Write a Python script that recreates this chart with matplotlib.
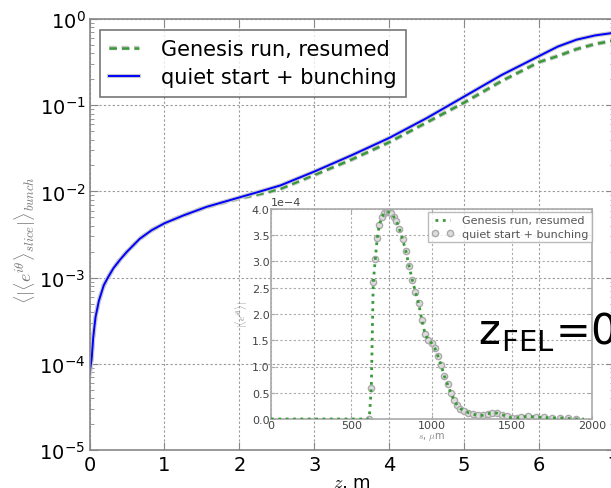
"""Bunching factor along the undulator, with the z_FEL=0 slice profile inset."""

import matplotlib

matplotlib.use("Agg")

import matplotlib.patheffects as pe
import matplotlib.pyplot as plt
import numpy as np

plt.rcParams["mathtext.fontset"] = "cm"

# main plot: z in m, log10 of bunching
Z_QUIET = [0, 0.03, 0.05, 0.08, 0.125, 0.19, 0.245, 0.32, 0.41, 0.5, 0.67, 0.83,
           1.0, 1.25, 1.56, 2.0, 2.28, 2.55, 3.0, 3.5, 4.0, 4.5, 5.0, 5.5, 6.0,
           6.25, 6.5, 6.75, 7.0]
LOG_QUIET = [-4.12, -3.93, -3.69, -3.46, -3.27, -3.09, -3.0, -2.89, -2.79, -2.70,
             -2.55, -2.45, -2.37, -2.28, -2.18, -2.07, -2.0, -1.93, -1.77, -1.58,
             -1.38, -1.15, -0.90, -0.65, -0.43, -0.32, -0.24, -0.19, -0.16]
Z_GENESIS = Z_QUIET
LOG_GENESIS = [-4.12, -3.93, -3.69, -3.46, -3.27, -3.09, -3.0, -2.89, -2.79, -2.70,
               -2.55, -2.45, -2.37, -2.28, -2.18, -2.08, -2.03, -1.97, -1.81, -1.63,
               -1.43, -1.20, -0.97, -0.72, -0.50, -0.43, -0.35, -0.29, -0.25]

# inset: slice position s in um, bunching in units of 1e-4
S_GENESIS = [0, 300, 600, 612, 625, 637, 650, 662, 675, 690, 705, 720, 735, 750,
             765, 780, 800, 820, 840, 860, 880, 900, 920, 940, 960, 980, 1000,
             1020, 1040, 1060, 1080, 1100, 1120, 1140, 1160, 1180, 1200, 1230,
             1260, 1290, 1320, 1350, 1380, 1410, 1440, 1470, 1500, 1530, 1560,
             1600, 1650, 1700, 1750, 1800, 1850, 1900, 1950]
B_GENESIS = [0, 0, 0, 0.0, 0.6, 2.6, 3.05, 3.45, 3.7, 3.84, 3.92, 3.95, 3.94, 3.92,
             3.85, 3.78, 3.62, 3.42, 3.2, 2.92, 2.65, 2.42, 2.2, 1.88, 1.62, 1.5,
             1.45, 1.36, 1.2, 1.02, 0.82, 0.66, 0.5, 0.36, 0.26, 0.2, 0.16, 0.12,
             0.09, 0.07, 0.07, 0.1, 0.12, 0.11, 0.08, 0.05, 0.02, 0.02, 0.04,
             0.05, 0.04, 0.03, 0.02, 0.02, 0.01, 0.0, 0.0]
S_QUIET = S_GENESIS[3:-1]
B_QUIET = B_GENESIS[3:-1]

BLUE = "#0000ff"
GREEN = "#3a9a3a"


def halo(width):
    return [pe.Stroke(linewidth=width, foreground="#c8c8c8"), pe.Normal()]


fig = plt.figure(figsize=(6.11, 4.89), dpi=100)
ax = fig.add_axes([89.5 / 611, 1 - 451 / 489, (614 - 89.5) / 611, (451 - 20) / 489])

ax.semilogy(Z_GENESIS, 10 ** np.array(LOG_GENESIS), "--", color=GREEN, lw=1.8,
            dashes=(3, 2), label="Genesis run, resumed", path_effects=halo(3.2))
ax.semilogy(Z_QUIET, 10 ** np.array(LOG_QUIET), "-", color=BLUE, lw=1.4,
            label="quiet start + bunching", path_effects=halo(3.0))

ax.set_xlim(0, 7)
ax.set_ylim(1e-5, 1)
ax.set_xticks(range(0, 8))
ax.grid(True, which="major", color="#999999", linestyle=(0, (2, 2)), lw=0.8)
ax.tick_params(axis="both", which="major", labelsize=14, direction="in",
               length=6, color="#888888", top=True, right=True)
ax.tick_params(axis="y", which="major", pad=3)
ax.tick_params(axis="both", which="minor", direction="in", length=3,
               color="#888888", top=True, right=True)
for spine in ax.spines.values():
    spine.set_color("#888888")
    spine.set_linewidth(1.2)

ax.set_xlabel(r"$z$, m", fontsize=13)
ax.xaxis.label.set_va("center")
ax.xaxis.set_label_coords(0.5, -0.074)
ax.set_ylabel(r"$\langle|\langle e^{i\theta}\rangle_{slice}|\rangle_{bunch}$",
              fontsize=13, color="#777777")
ax.yaxis.label.set_va("center")
ax.yaxis.set_label_coords(-0.123, 0.49)

leg = ax.legend(loc="upper left", fontsize=15, handlelength=1.4, fancybox=False,
                borderpad=0.45, labelspacing=0.4, handletextpad=1.1,
                bbox_to_anchor=(0.02, 0.975), borderaxespad=0)
leg.get_frame().set_edgecolor("#555555")
leg.get_frame().set_linewidth(1.2)

# inset with the slice profile
ins = fig.add_axes([271 / 611, 1 - 420 / 489, 321 / 611, 210 / 489])
ins.patch.set_alpha(0)
ins.plot(S_GENESIS, np.array(B_GENESIS) * 1e-4, ":", color=GREEN, lw=2,
         label="Genesis run, resumed", zorder=3)
ins.plot(S_QUIET, np.array(B_QUIET) * 1e-4, "o", ms=4.5, mfc="#dddddd",
         mec="#aaaaaa", mew=1, label="quiet start + bunching", zorder=2)
ins.set_xlim(0, 2000)
ins.set_ylim(0, 4e-4)
ins.set_xticks([0, 500, 1000, 1500, 2000])
ins.set_yticks(np.arange(0, 4.01e-4, 0.5e-4))
ins.ticklabel_format(axis="y", style="sci", scilimits=(0, 0))
ins.yaxis.get_offset_text().set_fontsize(8)
ins.yaxis.get_offset_text().set_color("#444444")
ins.grid(True, color="#aaaaaa", linestyle=(0, (2, 2)), lw=0.8)
ins.tick_params(labelsize=8, labelcolor="#444444", direction="in", length=3,
                color="#aaaaaa", pad=1, top=True, right=True)
for spine in ins.spines.values():
    spine.set_color("#aaaaaa")
    spine.set_linewidth(1.2)
ins.set_xlabel(r"$s$, $\mu$m", fontsize=7, color="#888888", labelpad=0)
ins.set_ylabel(r"$|\langle e^{i\theta}\rangle|$", fontsize=7, color="#888888",
               labelpad=1)
ileg = ins.legend(loc="upper right", fontsize=8, fancybox=False, handlelength=2,
                  borderpad=0.3, labelspacing=0.3, numpoints=2,
                  bbox_to_anchor=(1.0, 0.985), borderaxespad=0)
ileg.get_frame().set_edgecolor("#aaaaaa")
for text in ileg.get_texts():
    text.set_color("#555555")

fig.text(478 / 611, 1 - 345 / 489, r"z$_\mathregular{FEL}$=0", fontsize=30,
         ha="left", va="baseline", family="DejaVu Sans")

fig.savefig("out.png", dpi=100)
